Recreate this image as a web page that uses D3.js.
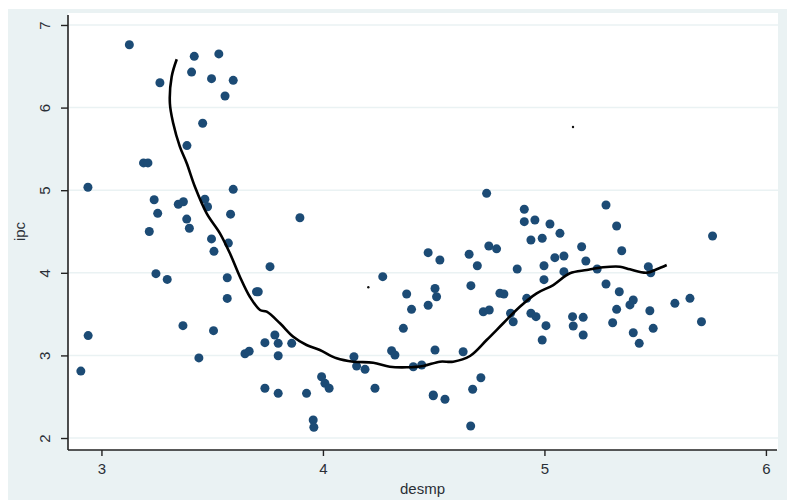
<!DOCTYPE html>
<html><head><meta charset="utf-8">
<script src="https://cdn.jsdelivr.net/npm/d3@7"></script>
<style>html,body{margin:0;padding:0;background:#fff;}svg{display:block;}</style>
</head><body>
<script>
// scatter data: desmp (x) and ipc (y)
const desmp = [3.126,3.419,3.53,3.407,3.264,3.497,3.595,3.558,3.457,3.386,3.19,3.21,2.939,3.595,3.238,3.347,3.37,3.467,3.479,3.254,3.385,3.583,
3.397,3.216,3.497,3.573,3.508,3.246,3.297,3.568,3.70,3.568,2.94,3.368,3.506,3.44,3.648,3.667,2.907,
3.896,3.761,3.708,4.475,4.528,4.27,4.378,4.506,4.513,4.40,4.475,4.363,3.783,3.798,3.738,3.859,3.798,4.14,4.152,4.19,4.31,4.325,4.506,4.408,4.446,
3.738,3.798,3.926,3.994,4.009,4.028,4.235,4.498,3.956,3.959,
4.739,4.909,4.909,4.957,5.025,5.07,4.939,4.99,5.278,5.326,4.66,4.697,4.749,4.784,4.877,4.998,5.047,5.088,5.168,5.187,5.088,4.998,
4.668,4.799,4.817,4.724,4.751,4.847,4.859,4.92,4.939,4.962,5.007,4.99,5.127,5.175,5.13,5.175,5.278,5.308,5.326,4.633,4.713,4.676,4.498,4.551,4.667,
5.349,5.238,5.469,5.48,5.759,5.338,5.401,5.386,5.476,5.589,5.657,5.709,5.401,5.428,5.491];
const ipc = [6.76,6.62,6.65,6.43,6.30,6.35,6.33,6.14,5.81,5.54,5.33,5.33,5.035,5.01,4.885,4.83,4.86,4.89,4.80,4.72,4.65,4.71,
4.54,4.50,4.41,4.36,4.26,3.99,3.92,3.94,3.77,3.69,3.24,3.36,3.30,2.97,3.02,3.05,2.81,
4.667,4.074,3.771,4.244,4.155,3.953,3.743,3.81,3.71,3.558,3.607,3.328,3.247,3.146,3.154,3.146,2.996,2.984,2.871,2.831,3.057,3.005,3.065,2.863,2.884,
2.602,2.541,2.541,2.742,2.662,2.602,2.602,2.521,2.218,2.13,
4.962,4.769,4.619,4.639,4.591,4.478,4.397,4.418,4.821,4.567,4.224,4.086,4.324,4.29,4.046,4.086,4.183,4.203,4.316,4.143,4.014,3.917,
3.844,3.752,3.743,3.529,3.55,3.51,3.408,3.691,3.51,3.469,3.36,3.186,3.469,3.461,3.356,3.247,3.864,3.396,3.558,3.045,2.73,2.59,2.512,2.47,2.145,
4.267,4.046,4.074,4.001,4.446,3.771,3.671,3.611,3.541,3.63,3.691,3.408,3.275,3.146,3.328];
// two tiny marks
const dotX = [5.129, 4.205];
const dotY = [5.765, 3.825];
// lowess fit line
const fitX = [3.340,3.317,3.309,3.324,3.354,3.385,3.422,3.475,3.535,3.580,3.625,3.670,3.716,3.746,3.806,3.866,3.926,3.986,4.062,4.137,4.227,4.302,4.378,4.453,4.528,4.588,4.664,4.739,4.814,4.889,4.965,5.040,5.115,5.191,5.265,5.341,5.386,5.461,5.507,5.552];
const fitY = [6.585,6.374,6.052,5.810,5.527,5.326,5.042,4.720,4.478,4.236,3.953,3.710,3.550,3.529,3.389,3.226,3.126,3.065,2.965,2.924,2.912,2.863,2.856,2.872,2.924,2.924,2.993,3.186,3.389,3.590,3.752,3.852,3.994,4.034,4.067,4.074,4.042,4.001,4.042,4.094];
const xTicks = [3,4,5,6];
const yTicks = [2,3,4,5,6,7];
const xTitle = "desmp", yTitle = "ipc";

const W = 787, H = 500;
const L = 68, R = 777, T = 13, B = 450;
const svg = d3.select("body").append("svg").attr("width", W).attr("height", H);
svg.append("rect").attr("x", 8).attr("y", 9).attr("width", W - 8).attr("height", H - 9).attr("fill", "#eaf2f3");
svg.append("rect").attr("x", L).attr("y", T).attr("width", 778 - L).attr("height", B - T).attr("fill", "#ffffff");

const x = d3.scaleLinear().domain([2.849, 6.05]).range([L, R]);
const y = d3.scaleLinear().domain([1.855, 7.145]).range([B, T]);

// gridlines
svg.append("g").selectAll("line").data(yTicks).join("line")
  .attr("x1", L + 1).attr("x2", 778).attr("y1", d => y(d)).attr("y2", d => y(d))
  .attr("stroke", "#eaf2f3").attr("stroke-width", 1.5);

const font = "Arial, 'Liberation Sans', sans-serif";
// y axis
const ya = svg.append("g").attr("transform", `translate(${L},0)`)
  .call(d3.axisLeft(y).tickValues(yTicks).tickSize(7).tickFormat(d3.format("d")));
ya.select(".domain").attr("stroke", "#222").attr("stroke-width", 1.6).attr("d", `M0,${T + 2}V${B}`);
ya.selectAll(".tick line").attr("stroke", "#222").attr("stroke-width", 1.4);
ya.selectAll(".tick text").attr("fill", "#2a2f36").style("font", `15px ${font}`)
  .attr("x", 0).attr("dy", 0).attr("text-anchor", "middle")
  .attr("transform", "translate(-23,0) rotate(-90)").attr("y", 5);

// x axis
const xa = svg.append("g").attr("transform", `translate(0,${B})`)
  .call(d3.axisBottom(x).tickValues(xTicks).tickSize(6).tickFormat(d3.format("d")));
xa.select(".domain").attr("stroke", "#222").attr("stroke-width", 1.6).attr("d", `M${L},0H${R}`);
xa.selectAll(".tick line").attr("stroke", "#222").attr("stroke-width", 1.4);
xa.selectAll(".tick text").attr("fill", "#2a2f36").style("font", `15px ${font}`).attr("y", 13).attr("dy", "0.71em");

// titles
svg.append("text").attr("x", (L + R) / 2).attr("y", 494).attr("text-anchor", "middle")
  .attr("fill", "#2a2f36").style("font", `15px ${font}`).text(xTitle);
svg.append("text").attr("transform", `translate(25,${(T + B) / 2}) rotate(-90)`).attr("text-anchor", "middle")
  .attr("fill", "#2a2f36").style("font", `15px ${font}`).text(yTitle);

// points
svg.append("g").selectAll("circle").data(desmp.map((d, i) => [d, ipc[i]])).join("circle")
  .attr("cx", d => x(d[0])).attr("cy", d => y(d[1])).attr("r", 4.5).attr("fill", "#1c4b75");
svg.append("g").selectAll("circle").data(dotX.map((d, i) => [d, dotY[i]])).join("circle")
  .attr("cx", d => x(d[0])).attr("cy", d => y(d[1])).attr("r", 1.2).attr("fill", "#111");

// fit line
svg.append("path").datum(fitX.map((d, i) => [d, fitY[i]]))
  .attr("d", d3.line().x(d => x(d[0])).y(d => y(d[1])).curve(d3.curveCatmullRom))
  .attr("fill", "none").attr("stroke", "#000").attr("stroke-width", 2.6);
</script>
</body></html>
